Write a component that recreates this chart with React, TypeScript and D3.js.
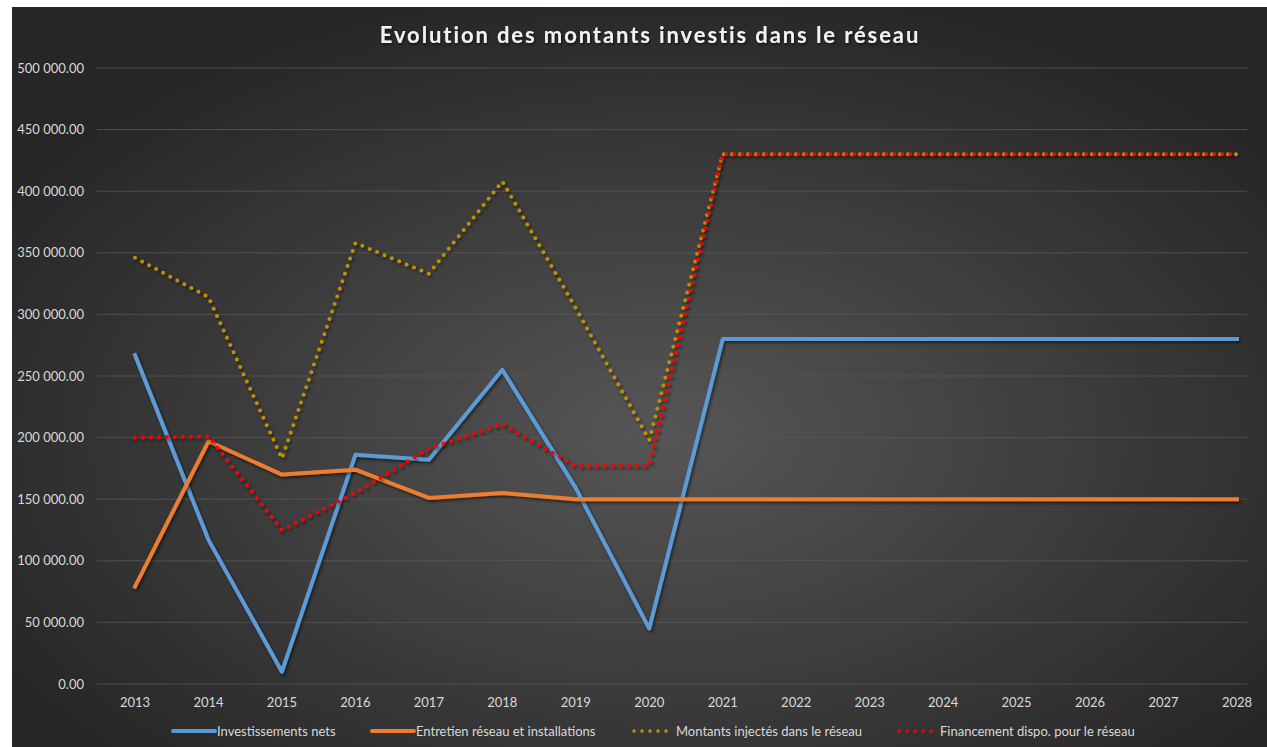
import React from 'react';
import * as d3 from 'd3';

const years = ['2013', '2014', '2015', '2016', '2017', '2018', '2019', '2020', '2021', '2022', '2023', '2024', '2025', '2026', '2027', '2028'];

const investissements = [267000, 117000, 10000, 186000, 182000, 255000, 159000, 45000, 280000, 280000, 280000, 280000, 280000, 280000, 280000, 280000];
const entretien = [79000, 197000, 170000, 174000, 151000, 155000, 150000, 150000, 150000, 150000, 150000, 150000, 150000, 150000, 150000, 150000];
const montantsInjectes = [346000, 314000, 183000, 358000, 333000, 408000, 305000, 198000, 430000, 430000, 430000, 430000, 430000, 430000, 430000, 430000];
const financement = [200000, 201000, 125000, 155000, 191000, 211000, 177000, 177000, 430000, 430000, 430000, 430000, 430000, 430000, 430000, 430000];

const yTicks = [0, 50000, 100000, 150000, 200000, 250000, 300000, 350000, 400000, 450000, 500000];

const series = [
  { name: 'Investissements nets', values: investissements, color: '#5B9BD5', dotted: false },
  { name: 'Entretien réseau et installations', values: entretien, color: '#ED7D31', dotted: false },
  { name: 'Montants injectés dans le réseau', values: montantsInjectes, color: '#C09000', dotted: true },
  { name: 'Financement dispo. pour le réseau', values: financement, color: '#FF0000', dotted: true },
];

const W = 1267;
const H = 747;
const font = 'Lato, "Open Sans", sans-serif';

const fmt = (v: number) => d3.format(',.2f')(v).replace(/,/g, ' ');

export default function App() {
  const x = d3.scalePoint<string>().domain(years).range([135, 1237]);
  const y = d3.scaleLinear().domain([0, 500000]).range([684, 68]);

  const line = d3
    .line<number>()
    .x((d, i) => x(years[i]) as number)
    .y((d) => y(d));

  // legend layout (marker start, marker length, text start)
  const legendPos = [
    { mx: 173, len: 42, tx: 217 },
    { mx: 372, len: 42, tx: 416 },
    { mx: 632, len: 36, tx: 676 },
    { mx: 897, len: 36, tx: 940 },
  ];

  return (
    <svg width={W} height={H} style={{ position: 'absolute', left: 0, top: 0 }}>
      <defs>
        <radialGradient id="bg" cx="52%" cy="58%" r="62%">
          <stop offset="0%" stopColor="#565656" />
          <stop offset="100%" stopColor="#262626" />
        </radialGradient>
        <filter id="shadow" x="-10%" y="-10%" width="120%" height="130%">
          <feDropShadow dx="1.5" dy="2" stdDeviation="1.5" floodColor="#000" floodOpacity="0.55" />
        </filter>
        <filter id="tshadow" x="-5%" y="-30%" width="110%" height="160%">
          <feDropShadow dx="1" dy="1.5" stdDeviation="1.2" floodColor="#000" floodOpacity="0.6" />
        </filter>
      </defs>
      <rect x={0} y={0} width={W} height={H} fill="#fff" />
      <rect x={12} y={7} width={W - 12} height={H - 7} fill="url(#bg)" />

      {/* gridlines */}
      {yTicks.map((t) => (
        <line key={t} x1={97} x2={1247} y1={y(t)} y2={y(t)} stroke="#5a5a5a" strokeOpacity={0.75} strokeWidth={1} />
      ))}

      {/* y labels */}
      {yTicks.map((t) => (
        <text key={'l' + t} x={84} y={y(t) + 4.5} textAnchor="end" fontFamily={font} fontSize={13} fill="#d9d9d9">
          {fmt(t)}
        </text>
      ))}

      {/* x labels */}
      {years.map((yr) => (
        <text key={yr} x={x(yr)} y={706.5} textAnchor="middle" fontFamily={font} fontSize={13} fill="#d9d9d9">
          {yr}
        </text>
      ))}

      {/* title */}
      <text
        x={650}
        y={43}
        textAnchor="middle"
        fontFamily={font}
        fontSize={22}
        fontWeight="bold"
        letterSpacing={1.9}
        fill="#f2f2f2"
        filter="url(#tshadow)"
      >
        Evolution des montants investis dans le réseau
      </text>

      {/* series */}
      {series.map((s) => (
        <path
          key={s.name}
          d={line(s.values) || ''}
          fill="none"
          stroke={s.color}
          strokeWidth={4}
          strokeDasharray={s.dotted ? '0 8' : undefined}
          strokeLinecap={s.dotted ? 'round' : 'square'}
          strokeLinejoin="round"
          filter="url(#shadow)"
        />
      ))}

      {/* legend */}
      {series.map((s, i) => {
        const p = legendPos[i];
        return (
          <g key={'lg' + i}>
            <line
              x1={p.mx + (s.dotted ? 2 : 0)}
              x2={p.mx + p.len}
              y1={731}
              y2={731}
              stroke={s.color}
              strokeWidth={s.dotted ? 3.5 : 4}
              strokeDasharray={s.dotted ? '0 8' : undefined}
              strokeLinecap="round"
            />
            <text x={p.tx} y={735.5} fontFamily={font} fontSize={13} fill="#d9d9d9">
              {s.name}
            </text>
          </g>
        );
      })}
    </svg>
  );
}
